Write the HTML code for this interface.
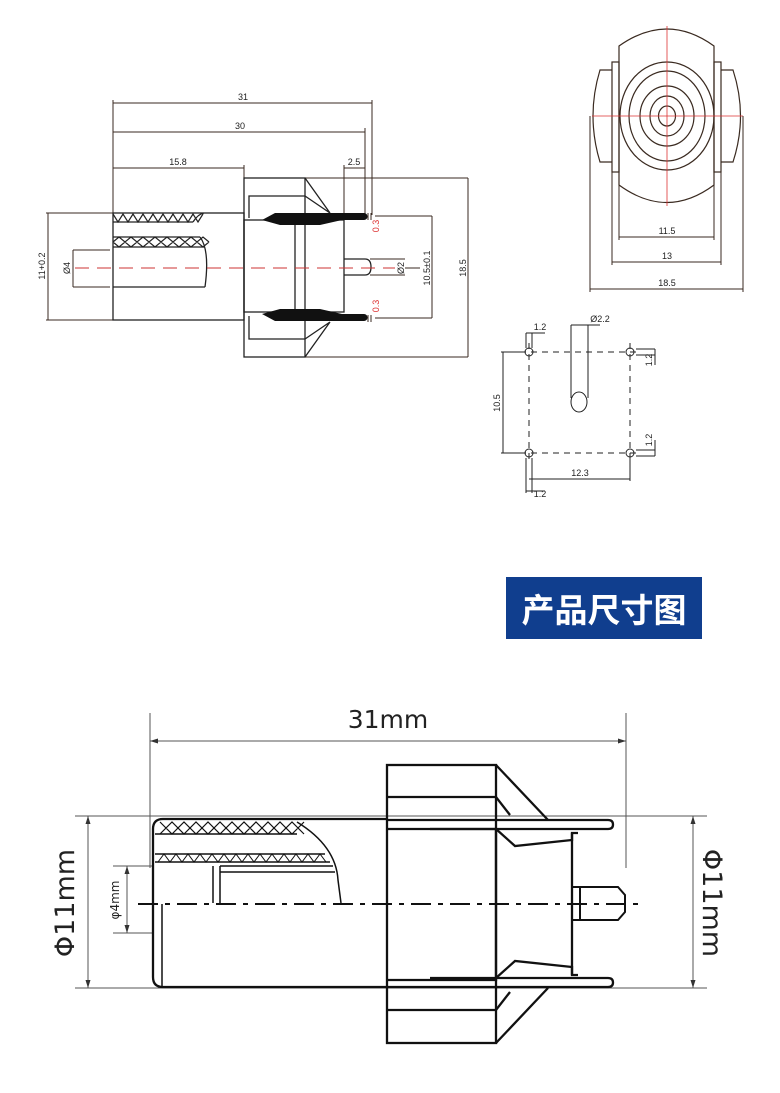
<!DOCTYPE html>
<html><head><meta charset="utf-8"><style>
html,body{margin:0;padding:0;background:#fff;}
svg{display:block;}
text{font-family:"Liberation Sans Narrow","Liberation Sans",sans-serif;}
</style></head><body>
<svg width="780" height="1093" viewBox="0 0 780 1093" xmlns="http://www.w3.org/2000/svg">
<rect width="780" height="1093" fill="#fff"/>
<g fill="none" stroke="#3a2a20" stroke-width="1">
<line x1="113" y1="103" x2="372" y2="103"/><text x="243" y="100" font-size="9" fill="#222" stroke="none" text-anchor="middle">31</text>
<line x1="113" y1="132" x2="365" y2="132"/><text x="240" y="129" font-size="9" fill="#222" stroke="none" text-anchor="middle">30</text>
<line x1="113" y1="168" x2="244" y2="168"/><text x="178" y="165" font-size="9" fill="#222" stroke="none" text-anchor="middle">15.8</text>
<line x1="344" y1="168" x2="365" y2="168"/><text x="354" y="165" font-size="9" fill="#222" stroke="none" text-anchor="middle">2.5</text>
<line x1="113" y1="100" x2="113" y2="213"/><line x1="372" y1="100" x2="372" y2="215"/><line x1="365" y1="128" x2="365" y2="215"/><line x1="344" y1="165" x2="344" y2="215"/><line x1="244" y1="165" x2="244" y2="178"/>
<line x1="48" y1="213" x2="48" y2="320"/><line x1="46" y1="213" x2="113" y2="213"/><line x1="46" y1="320" x2="113" y2="320"/>
<line x1="73" y1="250" x2="73" y2="287"/><line x1="73" y1="250" x2="110" y2="250"/><line x1="73" y1="287" x2="110" y2="287"/>
<line x1="305" y1="178" x2="468" y2="178"/><line x1="305" y1="357" x2="468" y2="357"/><line x1="468" y1="178" x2="468" y2="357"/>
<line x1="375" y1="216" x2="432" y2="216"/><line x1="375" y1="318" x2="432" y2="318"/><line x1="432" y1="216" x2="432" y2="318"/>
<line x1="370" y1="259" x2="405" y2="259"/><line x1="370" y1="275" x2="405" y2="275"/><line x1="405" y1="268" x2="420" y2="268"/>
<line x1="368" y1="213" x2="368" y2="220"/><line x1="371" y1="213" x2="371" y2="220"/>
<line x1="368" y1="315" x2="368" y2="322"/><line x1="371" y1="315" x2="371" y2="322"/>
</g>
<g font-size="9" fill="#222">
<text transform="translate(45,266) rotate(-90)" text-anchor="middle">11+0.2</text>
<text transform="translate(70,268) rotate(-90)" text-anchor="middle">Ø4</text>
<text transform="translate(404,268) rotate(-90)" text-anchor="middle">Ø2</text>
<text transform="translate(430,268) rotate(-90)" text-anchor="middle">10.5±0.1</text>
<text transform="translate(466,268) rotate(-90)" text-anchor="middle">18.5</text>
<text transform="translate(379,226) rotate(-90)" text-anchor="middle" fill="#d33">0.3</text>
<text transform="translate(379,306) rotate(-90)" text-anchor="middle" fill="#d33">0.3</text>
</g>
<g fill="none" stroke="#222" stroke-width="1.3">
<rect x="113" y="213" width="131" height="107"/>
<line x1="113" y1="222" x2="193" y2="222"/><line x1="113" y1="237" x2="200" y2="237"/><line x1="113" y1="247" x2="205" y2="247"/>
<path d="M193 222 Q198 214 204 213 M200 237 Q210 250 205 287"/>
<path d="M113 214 l5 8 l5 -8 l5 8 l5 -8 l5 8 l5 -8 l5 8 l5 -8 l5 8 l5 -8 l5 8 l5 -8 l5 8 l5 -8 l5 8 l5 -8 l5 8 l5 -8" stroke-width="1.2"/>
<path d="M113 242 l6 -5 l6 5 l6 -5 l6 5 l6 -5 l6 5 l6 -5 l6 5 l6 -5 l6 5 l6 -5 l6 5 l6 -5 l6 5 l6 -5 l6 5 M113 242 l6 5 l6 -5 l6 5 l6 -5 l6 5 l6 -5 l6 5 l6 -5 l6 5 l6 -5 l6 5 l6 -5 l6 5 l6 -5 l6 5 l6 -5" stroke-width="1.2"/>
<line x1="205" y1="287" x2="113" y2="287"/>
<rect x="244" y="178" width="61" height="179"/>
<path d="M249 218 V196 H305 L330 213 M249 316 V339 H305 L330 322 M305 178 L330 213 M305 357 L330 322"/>
<rect x="244" y="220" width="100" height="92"/>
<line x1="295" y1="220" x2="295" y2="312"/>
<path d="M344 259 H365 Q371 259 371 267 Q371 275 365 275 H344"/>
</g>
<g fill="#111">
<path d="M262 220 L275 213 H364 a3.5 3.5 0 0 1 0 7 H342 L320 225 H280 Z"/>
<path d="M262 314 L275 321 H364 a3.5 3.5 0 0 0 0 -7 H342 L320 309 H280 Z"/>
</g>
<line x1="75" y1="268" x2="395" y2="268" stroke="#c33" stroke-width="1" stroke-dasharray="14,8"/>
<g fill="none" stroke="#3a2a20" stroke-width="1.2">
<path d="M619 46 Q667 12 714 46 V185 Q667 220 619 185 Z"/>
<rect x="612" y="62" width="7" height="110"/><rect x="714" y="62" width="7" height="110"/>
<path d="M612 70 H600 Q586 116 600 162 H612"/><path d="M721 70 H733 Q748 116 733 162 H721"/>
<ellipse cx="667" cy="116" rx="47" ry="54"/><ellipse cx="667" cy="116" rx="38" ry="45"/>
<ellipse cx="667" cy="116" rx="27" ry="30"/><ellipse cx="667" cy="116" rx="17" ry="20"/><ellipse cx="667" cy="116" rx="8.5" ry="10"/>
</g>
<g stroke="#d33" stroke-width="0.8"><line x1="667" y1="26" x2="667" y2="206"/><line x1="592" y1="116" x2="743" y2="116"/></g>
<g fill="none" stroke="#3a2a20" stroke-width="1">
<line x1="619" y1="185" x2="619" y2="240"/><line x1="714" y1="185" x2="714" y2="240"/><line x1="619" y1="237" x2="714" y2="237"/>
<line x1="612" y1="172" x2="612" y2="265"/><line x1="721" y1="172" x2="721" y2="265"/><line x1="612" y1="262" x2="721" y2="262"/>
<line x1="590" y1="116" x2="590" y2="292"/><line x1="743" y1="116" x2="743" y2="292"/><line x1="590" y1="289" x2="743" y2="289"/>
</g>
<g font-size="9" fill="#222" text-anchor="middle"><text x="667" y="234">11.5</text><text x="667" y="259">13</text><text x="667" y="286">18.5</text></g>
<g fill="none" stroke="#222" stroke-width="1">
<g stroke-dasharray="6,5"><line x1="520" y1="352" x2="640" y2="352"/><line x1="520" y1="453" x2="640" y2="453"/><line x1="529" y1="343" x2="529" y2="462"/><line x1="630" y1="343" x2="630" y2="462"/></g>
<circle cx="529" cy="352" r="4"/><circle cx="630" cy="352" r="4"/><circle cx="529" cy="453" r="4"/><circle cx="630" cy="453" r="4"/>
<line x1="571" y1="325" x2="571" y2="398"/><line x1="588" y1="325" x2="588" y2="398"/><line x1="571" y1="325" x2="600" y2="325"/>
<ellipse cx="579" cy="402" rx="8" ry="10"/>
<line x1="503" y1="352" x2="503" y2="453"/><line x1="501" y1="352" x2="525" y2="352"/><line x1="501" y1="453" x2="525" y2="453"/>
<line x1="529" y1="479" x2="630" y2="479"/><line x1="630" y1="458" x2="630" y2="481"/>
<line x1="526" y1="458" x2="526" y2="493"/><line x1="532" y1="458" x2="532" y2="493"/><line x1="526" y1="491" x2="545" y2="491"/>
<line x1="526" y1="333" x2="526" y2="348"/><line x1="532" y1="333" x2="532" y2="348"/><line x1="526" y1="333" x2="545" y2="333"/>
<line x1="636" y1="349" x2="655" y2="349"/><line x1="636" y1="355" x2="655" y2="355"/><line x1="655" y1="349" x2="655" y2="365"/>
<line x1="636" y1="450" x2="655" y2="450"/><line x1="636" y1="456" x2="655" y2="456"/><line x1="655" y1="440" x2="655" y2="456"/>
</g>
<g font-size="9" fill="#222" text-anchor="middle">
<text x="540" y="330">1.2</text><text x="540" y="497">1.2</text><text x="580" y="476">12.3</text><text x="600" y="322">Ø2.2</text>
<text transform="translate(500,403) rotate(-90)">10.5</text>
<text transform="translate(652,360) rotate(-90)">1.2</text><text transform="translate(652,440) rotate(-90)">1.2</text>
</g>
<rect x="506" y="577" width="196" height="62" fill="#103e8e"/>
<text x="604" y="622" font-size="33" font-weight="bold" fill="#fff" text-anchor="middle" style='font-family:"Noto Sans CJK SC",sans-serif'>产品尺寸图</text>
<g fill="none" stroke="#555" stroke-width="1">
<line x1="150" y1="713" x2="150" y2="868"/><line x1="626" y1="713" x2="626" y2="868"/>
<line x1="150" y1="741" x2="626" y2="741"/>
<line x1="75" y1="816" x2="707" y2="816"/><line x1="75" y1="988" x2="707" y2="988"/>
<line x1="88" y1="816" x2="88" y2="988"/><line x1="693" y1="816" x2="693" y2="988"/>
<line x1="113" y1="866" x2="152" y2="866"/><line x1="113" y1="933" x2="152" y2="933"/><line x1="127" y1="866" x2="127" y2="933"/>
</g>
<g fill="#333"><path d="M150 741 l8 -2.5 v5z"/><path d="M626 741 l-8 -2.5 v5z"/>
<path d="M88 816 l-2.5 8 h5z"/><path d="M88 988 l-2.5 -8 h5z"/><path d="M693 816 l-2.5 8 h5z"/><path d="M693 988 l-2.5 -8 h5z"/>
<path d="M127 866 l-2.5 8 h5z"/><path d="M127 933 l-2.5 -8 h5z"/></g>
<text x="388" y="728" font-size="25" fill="#222" text-anchor="middle" style='font-family:"DejaVu Sans",sans-serif'>31mm</text>
<text transform="translate(74,903) rotate(-90)" font-size="27" fill="#222" text-anchor="middle" style='font-family:"DejaVu Sans",sans-serif'>Φ11mm</text>
<text transform="translate(703,903) rotate(90)" font-size="27" fill="#222" text-anchor="middle" style='font-family:"DejaVu Sans",sans-serif'>Φ11mm</text>
<text transform="translate(119,900) rotate(-90)" font-size="12" fill="#222" text-anchor="middle" style='font-family:"DejaVu Sans",sans-serif'>φ4mm</text>
<g fill="none" stroke="#111" stroke-width="2.3">
<path d="M387 819 H163 Q153 819 153 829 V977 Q153 987 163 987 H387"/>
<line x1="162" y1="904" x2="162" y2="987" stroke-width="1.5"/>
<path d="M155 834 H297 M155 854 H325 M155 862 H330 M220 866 H333 M220 872 H335" stroke-width="1.5"/>
<path d="M297 822 Q336 846 338 880 L341 903" stroke-width="1.5"/>
<path d="M213 866 V903 M220 866 V903" stroke-width="1.5"/>
<path d="M160 822 l12 12 l12 -12 l12 12 l12 -12 l12 12 l12 -12 l12 12 l12 -12 l12 12 l12 -12 l12 12 l12 -12 M160 834 l12 -12 l12 12 l12 -12 l12 12 l12 -12 l12 12 l12 -12 l12 12 l12 -12 l12 12 l12 -12 l12 12" stroke-width="1.2"/>
<path d="M158 862 l6 -8 l6 8 l6 -8 l6 8 l6 -8 l6 8 l6 -8 l6 8 l6 -8 l6 8 l6 -8 l6 8 l6 -8 l6 8 l6 -8 l6 8 l6 -8 l6 8 l6 -8 l6 8 l6 -8 l6 8 l6 -8 l6 8 l6 -8 l6 8 l6 -8 l6 8" stroke-width="1"/>
<rect x="387" y="765" width="109" height="278"/>
<path d="M387 797 H496 L510 815 M387 1010 H496 L510 992"/>
<path d="M496 765 L548 820 M496 1043 L548 988"/>
<path d="M387 820 H608 Q613 820 613 824.5 Q613 829 608 829 H430"/>
<path d="M387 987 H608 Q613 987 613 982.5 Q613 978 608 978 H430"/>
<path d="M387 829 H496 V980 H387"/>
<path d="M496 829 L515 846 L572 840 V833 H578 M496 978 L515 961 L572 967 V975 H578"/>
<line x1="572" y1="833" x2="572" y2="975"/>
<path d="M572 887 H618 L625 895 V912 L618 920 H572 M580 887 V920" stroke-width="2"/>
</g>
<line x1="138" y1="904" x2="643" y2="904" stroke="#111" stroke-width="2" stroke-dasharray="20,7,5,7"/>
</svg>
</body></html>
